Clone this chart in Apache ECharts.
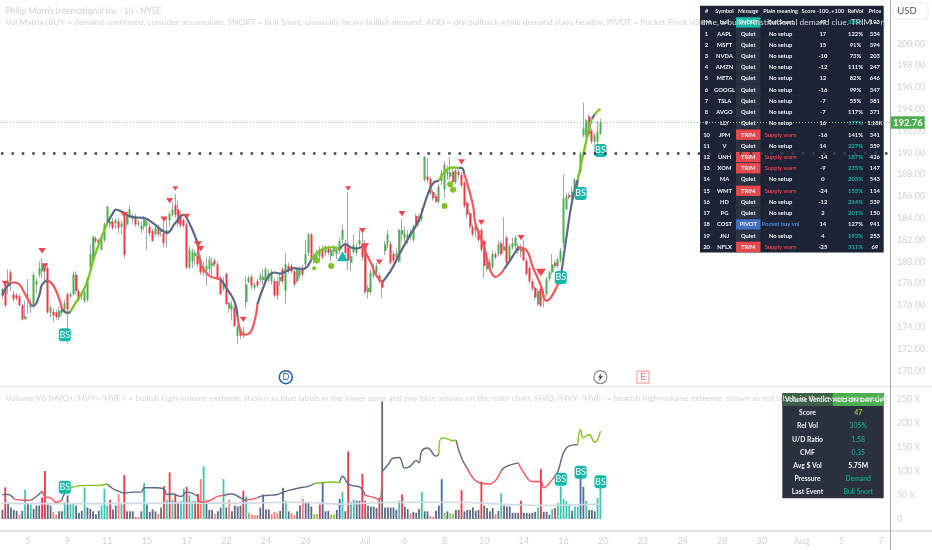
<!DOCTYPE html>
<html><head><meta charset="utf-8">
<style>html,body{margin:0;padding:0;background:#fff}#c{width:932px;height:550px}</style>
<script src="https://cdn.jsdelivr.net/npm/echarts@6/dist/echarts.min.js"></script>
</head><body><div id="c"></div>
<script>
const slotCount = 314;
const xTickIndex = [9,23,37,51,65,79,93,107,128,142,156,170,184,198,212,226,240,254,268,282,296,310];
const xTickLabels = ['5','9','11','15','17','22','24','26','Jul','6','8','10','14','16','20','22','24','28','30','Aug','5','7'];
const chartTitle = 'Philip Morris International Inc · 1h · NYSE';
const matrixLegend = 'Vol Matrix (BUY = demand confirmed, consider accumulate. SNORT = Bull Snort, unusually heavy bullish demand. ADD = dry pullback while demand stays healthy. PIVOT = Pocket Pivot Volume, a bullish institutional demand clue. TRIM = near';
const volumeLegend = 'Volume V6 (HVQ+/HVY+/HVE+ = bullish high-volume extreme, shown as blue labels in the lower pane and tiny blue arrows on the main chart. HVQ-/HVY-/HVE- = bearish high-volume extreme, shown as red labels in the lower pane and tiny red';
const lastPrice = 192.76;
const dottedLevel = 189.9;

// [open, close, low, high]
const candleRows = [
[176.9,177.5,176.6,177.6],[177.9,176.0,175.8,178.2],[177.9,178.2,177.0,179.3],[179.0,178.2,177.3,179.2],[177.0,176.6,176.3,177.3],
[176.9,176.6,176.4,177.1],[176.8,176.0,175.9,177.0],[176.0,174.7,174.6,176.1],[174.7,175.0,174.7,176.4],[176.7,177.0,175.2,178.4],
[175.8,176.1,175.3,176.7],[176.1,178.8,175.7,179.0],[177.9,178.2,177.0,178.5],[178.8,179.4,178.5,180.0],[179.1,179.75,178.5,180.3],
[179.75,179.1,178.2,179.8],[179.4,175.35,175.2,179.6],[175.3,175.8,174.9,176.0],[175.4,175.05,174.5,175.7],[175.35,174.9,174.7,175.6],
[174.9,175.5,174.6,175.9],[175.3,175.6,175.1,176.0],[175.6,176.2,175.3,176.5],[177.0,175.6,172.5,177.2],[176.8,177.0,176.6,177.2],
[177.0,178.8,176.9,179.1],[178.8,177.3,177.0,179.1],[177.3,176.5,176.3,177.5],[176.9,177.1,176.5,177.3],[176.4,177.2,176.2,177.5],
[176.5,178.5,176.3,178.6],[179.4,180.7,179.0,181.6],[180.2,182.3,180.0,182.3],[182.1,181.9,181.7,182.3],[182.0,181.7,181.5,182.1],
[181.1,182.3,181.0,182.4],[182.0,183.4,181.8,183.6],[183.7,185.06,183.4,185.1],[183.4,183.7,183.1,183.9],[183.7,183.1,182.9,184.0],
[183.5,183.8,183.0,184.0],[183.7,183.1,182.6,184.0],[183.2,183.5,182.5,183.8],[184.4,180.6,180.3,184.6],[183.4,184.2,183.1,184.5],
[184.2,184.8,184.0,185.1],[183.9,184.2,183.5,184.4],[184.1,183.4,183.2,184.4],[183.4,183.55,183.2,183.8],[183.0,183.3,182.6,183.7],
[183.2,184.0,182.9,184.2],[183.3,183.7,181.1,184.0],[183.2,182.6,182.3,183.5],[182.8,181.9,181.8,183.0],[182.5,183.1,182.3,183.3],
[183.1,182.5,182.3,183.4],[182.7,182.9,182.3,183.1],[182.6,181.7,181.3,183.8],[182.5,182.9,181.3,184.0],[183.8,184.4,183.2,184.6],
[184.3,184.8,184.1,185.5],[185.2,184.3,184.0,186.2],[184.8,183.5,183.2,185.6],[184.3,183.3,183.1,184.6],[183.8,183.3,183.1,184.0],
[183.4,179.45,179.3,183.6],[179.45,181.1,179.3,181.4],[180.0,180.9,179.4,181.2],[180.5,180.8,179.7,181.1],[180.5,179.75,179.5,181.0],
[180.2,179.0,178.8,180.6],[179.0,179.5,178.7,180.0],[179.2,179.6,177.8,180.4],[179.3,180.2,178.9,180.5],[179.6,179.9,178.7,180.4],
[180.1,179.75,179.5,180.3],[179.75,178.5,178.3,180.0],[178.5,177.0,176.9,178.7],[177.5,177.9,177.3,178.6],[178.9,176.1,176.0,179.0],
[175.7,176.2,175.3,176.3],[175.6,176.0,174.6,176.4],[175.8,174.1,174.0,176.0],[173.2,174.0,172.5,174.2],[173.8,173.2,172.9,174.0],
[173.3,173.6,173.0,174.0],[176.3,177.9,175.7,178.7],[178.1,178.5,178.0,178.7],[178.6,177.8,177.5,178.8],[177.6,177.9,177.4,178.1],
[178.2,177.8,177.6,178.4],[178.3,178.7,178.1,179.0],[178.3,178.6,177.9,179.3],[178.2,179.3,178.0,179.5],[178.4,178.9,178.1,179.3],
[178.2,179.0,177.9,179.3],[178.2,176.9,176.7,178.5],[178.2,176.9,176.5,178.6],[178.2,178.6,177.8,178.9],[179.3,178.2,178.0,179.5],
[177.3,179.75,176.1,180.8],[179.6,179.1,178.9,179.9],[179.6,179.1,178.9,179.8],[179.1,177.9,177.7,179.3],[178.2,179.3,178.0,179.5],
[178.7,179.2,178.4,179.6],[179.45,178.8,178.6,179.7],[179.75,180.7,179.4,182.0],[180.8,182.5,180.5,182.6],[182.5,180.2,180.0,182.6],
[180.1,180.5,179.8,180.8],[180.3,180.7,179.9,181.1],[180.5,181.1,180.1,181.4],[181.1,180.4,180.2,181.5],[180.8,181.2,180.5,181.5],
[181.2,180.8,180.6,181.4],[180.5,181.1,180.0,181.3],[180.9,181.2,180.5,181.5],[180.7,181.1,180.2,181.4],[181.0,181.9,180.7,182.2],
[182.0,182.9,181.7,183.4],[181.6,180.8,180.5,182.0],[181.3,180.1,179.2,186.4],[179.9,180.5,179.1,181.3],[180.9,181.5,180.7,182.5],
[180.8,181.3,180.5,181.7],[181.6,182.0,181.3,182.9],[181.6,180.4,180.1,182.9],[181.6,177.2,177.0,182.0],[177.2,177.6,176.6,177.9],
[177.2,179.0,177.0,179.3],[178.7,179.2,178.5,179.8],[179.0,179.6,178.7,179.9],[178.7,178.2,178.0,179.0],[178.1,177.6,176.7,178.3],
[180.97,181.6,180.6,181.9],[181.6,182.5,181.2,182.9],[181.6,179.9,179.7,181.9],[180.7,180.1,179.9,181.0],[180.4,180.8,179.9,181.2],
[180.0,182.9,179.9,183.0],[182.5,182.9,181.9,183.9],[182.1,182.6,181.8,183.2],[181.9,182.5,181.6,182.9],[182.3,182.7,182.0,183.0],
[182.0,183.2,181.8,183.4],[184.2,183.2,183.0,184.4],[183.6,184.0,183.3,184.3],[183.9,184.3,183.7,184.9],[187.5,189.6,187.3,189.7],
[187.8,187.5,187.2,189.5],[187.6,186.3,186.1,187.8],[186.4,185.8,185.6,186.6],[186.0,185.5,185.4,186.2],[185.5,186.9,185.3,187.1],
[187.4,188.1,187.0,188.4],[186.6,188.9,185.8,189.2],[188.0,188.3,187.5,188.8],[187.8,188.2,187.5,189.6],[188.25,187.3,187.0,188.6],
[187.3,188.4,187.1,188.6],[188.25,187.95,187.6,188.5],[187.95,187.0,186.8,188.2],[187.2,185.1,184.9,187.4],[185.4,184.3,184.0,185.6],
[184.45,183.2,183.0,184.6],[183.2,182.5,182.3,183.4],[182.9,183.3,182.2,183.7],[182.9,182.0,181.8,183.1],[182.9,181.1,180.9,183.1],
[181.9,179.6,178.5,182.1],[179.3,179.8,179.1,180.1],[179.9,179.5,179.3,180.3],[179.5,180.7,179.3,181.0],[180.7,180.4,180.2,180.9],
[180.7,181.6,180.5,181.9],[181.7,180.7,180.5,181.9],[181.0,181.4,181.0,184.1],[182.2,179.9,179.7,182.4],[180.2,181.4,180.0,181.6],
[181.3,181.7,181.1,182.2],[181.4,182.2,181.2,182.4],[181.4,181.0,180.7,181.7],[180.9,181.2,180.4,181.6],[181.2,180.1,180.0,182.0],
[180.1,178.85,178.7,180.3],[179.4,178.2,178.0,179.6],[178.2,177.5,177.3,178.4],[177.6,176.7,176.5,177.8],[176.1,177.3,175.9,177.5],
[177.5,175.95,175.8,177.7],[176.6,177.0,175.8,177.3],[177.0,178.4,176.8,178.6],[178.4,179.0,178.2,179.2],[179.0,179.75,178.8,180.7],
[179.9,179.6,179.4,180.1],[179.6,180.2,179.4,180.4],[180.1,181.0,179.9,181.3],[181.7,185.8,181.3,188.0],[184.8,186.0,184.7,186.3],
[186.1,185.9,185.7,186.3],[185.8,186.4,185.6,186.9],[186.4,187.5,186.2,187.7],[187.0,187.5,186.8,187.9],[188.25,189.9,188.1,190.1],
[191.6,192.2,191.4,194.6],[191.6,192.96,191.4,193.1],[193.3,191.7,191.5,193.5],[192.0,191.0,190.8,192.2],[191.0,191.6,190.7,191.8],
[191.0,191.9,190.8,192.9],[191.75,192.76,191.6,193.1]
];

// trend line pieces, [bar, price]
const trendGray = [
[[0,176.9],[1,177.5],[3,178.0]],
[[10,176.05],[11,175.95],[13,176.9],[14,177.9],[16,178.3]],
[[21,175.65],[23,175.3],[24,175.4]],
[[37,183.55],[39,184.45],[40,184.76],[42,184.6],[45,184.15],[47,184.06],[50,184.0],[53,183.55],[56,182.94],[58,182.64],[61,183.55],[64,184.3],[65,184.0],[67,182.94],[69,181.6]],
[[77,178.4],[79,177.6],[82,176.26],[83,174.9]],
[[90,176.1],[92,177.6],[94,178.7],[96,179.0],[98,178.9],[100,179.1],[103,179.4],[106,179.3],[109,180.2]],
[[119,181.1],[121,181.6],[123,181.3],[125,181.2],[127,181.4]],
[[134,178.1],[137,179.15],[140,180.66],[144,182.5],[147,183.85],[150,186.1],[152,187.2],[154,187.4]],
[[161,188.6],[162,188.6],[163,188.0]],
[[177,179.3],[179,180.06],[182,181.3]],
[[197,178.5],[199,182.2],[201,185.5],[203,187.5]],
[[208,193.1],[209,193.5]]
];
const trendGreen = [
[[24,175.4],[26,176.3],[28,177.1],[30,178.2],[32,180.05],[34,181.6],[37,183.55]],
[[109,180.2],[112,181.0],[115,181.3],[117,181.3],[119,181.1]],
[[154,187.4],[156,188.25],[159,188.65],[161,188.6]],
[[203,187.5],[205,189.9],[207,192.2],[208,193.1]],
[[209,193.5],[210,193.8],[211,194.0]]
];
const trendRed = [
[[3,178.0],[4,178.1],[6,177.9],[8,177.0],[10,176.05]],
[[16,178.3],[18,177.8],[20,176.6],[21,175.65]],
[[69,181.6],[70,179.75],[73,178.7],[75,178.5],[77,178.4]],
[[83,174.9],[85,173.3],[87,173.4],[89,174.6],[90,176.1]],
[[127,181.4],[130,179.9],[132,178.7],[134,178.1]],
[[163,188.0],[166,185.2],[167,183.4],[170,181.3],[172,179.3],[174,178.6],[177,179.3]],
[[182,181.3],[185,181.0],[187,179.6],[190,177.8],[192,176.4],[194,176.9],[197,178.5]]
];

// [bar, price, size]
const sellMarks = [[1,178.0,7],[14,181.0,7.5],[15,179.6,7],[43,184.3,7.5],[57,183.9,7],[59,185.6,7],[61,186.7,6],[65,184.15,7],[69,181.6,8],[70,181.2,7],[85,174.7,7],[122,186.7,6],[127,182.85,7],[128,181.4,8],[133,179.95,7],[141,184.4,7],[162,189.15,7],[169,183.6,7],[183,182.2,7],[190,179.0,10]];
const greenDots = [[110,179.4,5],[111,180.1,7],[116,179.6,7],[156,185.1,7],[158,187.1,7],[159,186.6,7]];
const tealUp = [[120,180.5]];
const bsMain = [[22,173.3],[197,178.55],[204,186.25],[211,190.2]];
const bsVolume = [[22,66000],[197,82700],[204,97300],[211,77700]];
const eventMarks = [[100,169.4,'D'],[211,169.4,''],[226,169.4,'E']];

// [volume in K, kind]
const volumeRows = [
[19,'g'],[66,'r'],[31,'g'],[24,'g'],[19,'g'],[17,'g'],[9,'l'],[17,'g'],[61,'t'],[33,'g'],[30,'t'],[21,'g'],[28,'g'],[28,'g'],[45,'r'],[100,'r'],[30,'g'],[28,'g'],[15,'l'],[9,'l'],
[16,'g'],[16,'g'],[35,'t'],[49,'g'],[33,'t'],[33,'t'],[28,'g'],[13,'g'],[17,'g'],[66,'t'],[24,'g'],[21,'g'],[16,'g'],[10,'g'],[17,'g'],[28,'t'],[63,'t'],[28,'t'],[40,'r'],[20,'g'],
[28,'g'],[52,'l'],[31,'t'],[92,'r'],[16,'g'],[16,'g'],[16,'g'],[5,'l'],[4,'l'],[16,'g'],[75,'t'],[30,'g'],[15,'g'],[20,'g'],[16,'g'],[10,'l'],[24,'g'],[68,'r'],[40,'t'],[97,'r'],
[40,'t'],[51,'r'],[35,'g'],[37,'t'],[63,'t'],[67,'r'],[49,'t'],[37,'t'],[37,'r'],[52,'r'],[83,'l'],[110,'t'],[37,'g'],[19,'g'],[19,'g'],[10,'l'],[16,'g'],[24,'g'],[83,'t'],[24,'g'],
[40,'l'],[16,'g'],[28,'g'],[26,'g'],[28,'g'],[59,'r'],[47,'t'],[13,'l'],[9,'l'],[8,'l'],[8,'l'],[24,'g'],[51,'g'],[20,'g'],[20,'g'],[10,'l'],[15,'l'],[13,'l'],[17,'g'],[65,'g'],
[38,'t'],[16,'g'],[12,'l'],[8,'l'],[16,'g'],[28,'g'],[42,'l'],[33,'g'],[33,'g'],[26,'g'],[10,'m'],[10,'m'],[30,'r'],[75,'b'],[16,'g'],[17,'g'],[9,'m'],[10,'m'],[19,'g'],[42,'b'],
[56,'t'],[16,'g'],[141,'r'],[35,'t'],[40,'t'],[38,'g'],[38,'g'],[94,'r'],[38,'r'],[28,'g'],[26,'g'],[26,'g'],[23,'g'],[44,'r'],[245,'g'],[24,'g'],[24,'g'],[24,'g'],[24,'g'],[19,'g'],
[38,'t'],[51,'r'],[26,'g'],[21,'g'],[12,'l'],[15,'g'],[13,'g'],[21,'g'],[56,'t'],[16,'g'],[16,'g'],[6,'l'],[5,'l'],[17,'g'],[28,'g'],[83,'b'],[13,'m'],[16,'g'],[12,'m'],[11,'m'],
[19,'g'],[19,'g'],[60,'r'],[16,'g'],[19,'g'],[19,'g'],[24,'g'],[17,'g'],[19,'g'],[78,'r'],[28,'g'],[23,'g'],[16,'g'],[23,'g'],[10,'l'],[17,'g'],[53,'t'],[28,'g'],[26,'g'],[26,'g'],
[13,'g'],[13,'g'],[13,'g'],[38,'r'],[13,'g'],[13,'g'],[12,'g'],[13,'g'],[15,'g'],[24,'t'],[104,'r'],[15,'g'],[15,'g'],[9,'g'],[21,'t'],[23,'r'],[33,'t'],[68,'t'],[42,'t'],[37,'t'],
[30,'t'],[17,'g'],[26,'t'],[26,'t'],[99,'b'],[67,'g'],[38,'t'],[19,'g'],[19,'g'],[16,'g'],[44,'t'],[65,'t']
];

// volume trend pieces, [bar, K]
const volTrendGray = [
[[0,51],[2,51],[4,42]],[[10,39],[12,47],[14,58]],[[21,39],[22,54],[24,65]],
[[37,73],[39,63],[41,58],[43,54],[46,56],[49,56],[50,65],[54,65],[57,63],[58,51],[60,52],[63,47],[65,56],[69,47]],
[[78,49],[81,52],[84,44],[86,39]],[[90,44],[91,47],[93,49],[97,51],[99,56],[102,61],[105,65],[108,68],[110,74]],
[[119,75],[120,89],[122,73],[124,69],[126,67],[128,49]],
[[134,99],[136,113],[138,127],[140,128],[142,106],[144,110],[146,122],[147,117],[148,142],[150,148],[153,131],[154,135]],
[[160,165],[162,127],[164,106]],[[176,101],[178,110],[182,117]],[[195,90],[196,99],[199,148],[203,155]]
];
const volTrendGreen = [
[[24,65],[29,70],[34,70],[37,73]],[[110,74],[113,76],[117,77],[119,75]],
[[154,135],[155,169],[157,167],[159,163],[160,165]],[[203,155],[204,186],[205,169],[207,176],[209,160],[210,165],[211,183]]
];
const volTrendRed = [
[[4,42],[7,39],[10,39]],[[14,58],[15,47],[17,44],[19,35],[21,39]],[[69,47],[70,35],[73,38],[76,47],[78,49]],[[86,39],[90,44]],
[[128,49],[131,45],[133,40],[134,99]],[[164,106],[168,76],[172,73],[176,101]],[[182,117],[184,96],[187,78],[190,78],[191,65],[194,82],[195,90]]
];
const volAverage = [[0,33],[11,32],[34,32],[58,33],[82,33],[105,35],[120,31],[132,34],[144,35],[156,35],[167,34],[179,30],[191,28],[203,30],[211,31]];

// table contents
const matrixHead = ['#','Symbol','Message','Plain meaning','Score -100..+100','RelVol','Price'];
const matrixRows = [
['PM','bull','SNORT','Bull Snort','47','305%','193'],
['1','AAPL','Quiet','No setup','17','122%','334'],['2','MSFT','Quiet','No setup','15','91%','394'],['3','NVDA','Quiet','No setup','-10','73%','203'],
['4','AMZN','Quiet','No setup','-12','111%','247'],['5','META','Quiet','No setup','12','82%','646'],['6','GOOGL','Quiet','No setup','-16','99%','347'],
['7','TSLA','Quiet','No setup','-7','55%','381'],['8','AVGO','Quiet','No setup','-7','117%','371'],['9','LLY','Quiet','No setup','16','177%','1.18K'],
['10','JPM','TRIM','Supply warn','-16','141%','341'],['11','V','Quiet','No setup','14','227%','359'],['12','UNH','TRIM','Supply warn','-14','187%','426'],
['13','XOM','TRIM','Supply warn','-9','235%','147'],['14','MA','Quiet','No setup','0','203%','543'],['15','WMT','TRIM','Supply warn','-24','153%','114'],
['16','HD','Quiet','No setup','-12','214%','339'],['17','PG','Quiet','No setup','2','201%','150'],['18','COST','PIVOT','Pocket buy vol','14','127%','941'],
['19','JNJ','Quiet','No setup','4','193%','253'],['20','NFLX','TRIM','Supply warn','-25','311%','69']
];
const verdictHead = ['Volume Verdict','ADD ON DRY-UP'];
const verdictRows = [['Score','47','#8bc34a'],['Rel Vol','305%','#14b8a6'],['U/D Ratio','1.58','#14b8a6'],['CMF','0.35','#14b8a6'],['Avg $ Vol','5.75M','#ffffff'],['Pressure','Demand','#14b8a6'],['Last Event','Bull Snort','#14b8a6']];

const FONT = 'Lato,"Noto Sans",sans-serif';
const PALE = '#d2d2d2';
const GRAY = '#5a6a85', LIME = '#7dc41f', RED = '#f5575c';
const VOL = {g:'#5d6a82', r:'#f23645', l:'#fb7f78', t:'#3cc6b2', m:'#8bc34a', b:'#3f6fb0'};

const cats = Array.from({length:slotCount},(_,i)=>String(i));
const tickMap = new Map(xTickIndex.map((v,k)=>[v,xTickLabels[k]]));

function pieces(groups,color,width,xi,yi,scale){
  return groups.map(g=>({type:'line',xAxisIndex:xi,yAxisIndex:yi,data:g.map(p=>[p[0],p[1]*scale]),smooth:0.45,symbol:'none',
    lineStyle:{color,width},z:4,silent:true}));
}

const series = [];
series.push({type:'candlestick',xAxisIndex:0,yAxisIndex:0,barWidth:1,data:candleRows,z:2,silent:true,
  itemStyle:{color:'#a3a6ad',color0:'#a3a6ad',borderColor:'#a3a6ad',borderColor0:'#a3a6ad',borderWidth:1},
  markLine:{silent:true,symbol:['none','none'],z:20,animation:false,data:[
    {yAxis:dottedLevel,lineStyle:{color:'#3d4152',type:[2.5,7.9],width:2.5},label:{show:false}},
    {yAxis:lastPrice,lineStyle:{color:'#8fd08f',type:[1,2],width:1},
     label:{show:true,position:'end',distance:0,formatter:lastPrice.toFixed(2),color:'#fff',fontFamily:FONT,fontWeight:'bold',fontSize:9.5,backgroundColor:'#4caf50',padding:[1.5,2,1,2]}}
  ]}});
series.push({type:'candlestick',xAxisIndex:0,yAxisIndex:0,barWidth:2.5,z:3,silent:true,
  data:candleRows.map(r=>[r[0],r[1],Math.min(r[0],r[1]),Math.max(r[0],r[1])]),
  itemStyle:{color:'#4caf50',color0:'#f23645',borderColor:'#4caf50',borderColor0:'#f23645',borderWidth:0}});
series.push(...pieces(trendGray,GRAY,2.2,0,0,1),...pieces(trendGreen,LIME,2.2,0,0,1),...pieces(trendRed,RED,2.2,0,0,1));
series.push({type:'scatter',xAxisIndex:0,yAxisIndex:0,z:5,silent:true,symbol:'triangle',symbolRotate:180,data:sellMarks,symbolSize:d=>[d[2],d[2]*0.75],itemStyle:{color:'#f0474f',opacity:1}});
series.push({type:'scatter',xAxisIndex:0,yAxisIndex:0,z:5,silent:true,symbol:'circle',data:greenDots,symbolSize:d=>d[2]-1,itemStyle:{color:LIME,opacity:1}});
series.push({type:'scatter',xAxisIndex:0,yAxisIndex:0,z:5,silent:true,symbol:'triangle',data:tealUp,symbolSize:[11,10],itemStyle:{color:'#14b8a6',opacity:1}});
const bsStyle = {type:'scatter',z:6,silent:true,symbol:'roundRect',symbolSize:[12,13],itemStyle:{color:'#14b8a6',opacity:1},
  label:{show:true,position:'inside',formatter:'BS',color:'#fff',fontFamily:FONT,fontSize:9}};
series.push({...bsStyle,xAxisIndex:0,yAxisIndex:0,data:bsMain});
const evColor = t=>t==='E'?'#f7a6a6':(t==='D'?'#1f5aa8':'#8a8690');
series.push({type:'scatter',xAxisIndex:0,yAxisIndex:0,z:6,silent:true,symbol:'circle',symbolSize:13,
  data:eventMarks.map(e=>({value:[e[0],e[1]],
    symbol:e[2]==='E'?'rect':'circle',symbolSize:e[2]==='E'?12:13,
    itemStyle:{color:'#fff',opacity:1,borderWidth:e[2]==='D'?1.5:1.2,borderColor:evColor(e[2])},
    label:{show:e[2]!=='',position:'inside',formatter:e[2],fontFamily:FONT,fontSize:9,color:e[2]==='E'?'#f26d6d':'#1f5aa8'}}))});
series.push({type:'scatter',xAxisIndex:0,yAxisIndex:0,z:7,silent:true,symbol:'path://M7 0 L1 7 L4.5 7 L3 13 L10 5 L6 5 Z',symbolSize:[5,8],
  data:eventMarks.filter(e=>e[2]==='').map(e=>[e[0],e[1]]),itemStyle:{color:'#4f4a58',opacity:1}});

series.push({type:'bar',xAxisIndex:1,yAxisIndex:1,barWidth:1.8,z:2,silent:true,
  data:volumeRows.map(r=>({value:r[0]*1000,itemStyle:{color:VOL[r[1]]}}))});
series.push({type:'line',xAxisIndex:1,yAxisIndex:1,smooth:0.4,symbol:'none',silent:true,z:3,lineStyle:{color:'#cfd8e3',width:1.6},data:volAverage.map(p=>[p[0],p[1]*1000])});
series.push(...pieces(volTrendGray,GRAY,1.4,1,1,1000),...pieces(volTrendGreen,LIME,1.4,1,1,1000),...pieces(volTrendRed,RED,1.4,1,1,1000));
series.push({...bsStyle,xAxisIndex:1,yAxisIndex:1,data:bsVolume});

const gfx = [];
const cell = (x,y,w,h,fill,z,op)=>gfx.push({type:'rect',silent:true,z,shape:{x,y,width:w,height:h},style:{fill,opacity:op==null?1:op}});
const txt = (x,y,text,fill,size,weight,z,style)=>gfx.push({type:'text',silent:true,z,x,y,style:{text,fill,font:`${style||''} ${weight} ${size}px ${FONT}`,align:'center',verticalAlign:'middle'}});

// matrix table
const colX = [700,713,736,760.5,800.7,845,866,883.7];
const rowH = 11.22, tTop = 5.7;
cell(700,tTop,183.7,rowH*22,'#131a2e',10,0.96);
matrixHead.forEach((t,c)=>txt((colX[c]+colX[c+1])/2,tTop+rowH/2,t,'#e8e8ee',5.6,'bold',11,c===2?'italic':''));
matrixRows.forEach((r,k)=>{
  const y = tTop+rowH*(k+1);
  gfx.push({type:'line',silent:true,z:10,shape:{x1:700,y1:y,x2:883.7,y2:y},style:{stroke:'#232b45',lineWidth:0.6}});
  const msgFill = {Quiet:'#2b3242',TRIM:'#e5484d',PIVOT:'#3f6fbf',SNORT:'#14b8a6'}[r[2]];
  cell(colX[2],y+0.3,colX[3]-colX[2],rowH-0.6,msgFill,10);
  const planFill = r[2]==='TRIM'?'#e0404c':(r[2]==='PIVOT'?'#4a90d9':'#f0f0f5');
  const rel = parseInt(r[5]);
  r.forEach((t,c)=>{
    let col='#f0f0f5';
    if(c===3) col=planFill;
    if(c===5 && rel>150) col='#14b8a6';
    txt((colX[c]+colX[c+1])/2,y+rowH/2,t,col,5.8,'bold',11);
  });
});

// verdict table
cell(782.3,393,101.4,105.3,'#242938',10,0.97);
cell(782.3,393,50.4,13,'#3c5f48',10);
cell(832.7,393,51,13,'#4caf50',10);
txt(807.5,399.5,verdictHead[0],'#e8f0e8',6.6,'bold',11);
txt(858.2,399.5,verdictHead[1],'#ffffff',6.4,'bold',11);
verdictRows.forEach((r,k)=>{
  const y=413+13.2*k;
  txt(807.5,y,r[0],'#eef0f4',6.8,'bold',11);
  txt(858.2,y,r[1],r[2],6.8,k===0||k===4?'bold':'normal',11);
});

// legends over everything
const leg = (x,y,t,w)=>gfx.push({type:'text',silent:true,z:30,x,y,style:{text:t,fill:PALE,font:`8.45px ${FONT}`,verticalAlign:'middle',width:w,overflow:'truncate',ellipsis:''}});
leg(5.5,22,matrixLegend,884);
leg(5.5,398,volumeLegend,884);

// pane rules and price-scale furniture
const rule=(x1,y1,x2,y2,stroke,lw)=>gfx.push({type:'line',silent:true,z:9,shape:{x1,y1,x2,y2},style:{stroke,lineWidth:lw}});
rule(0,386.5,932,386.5,'#e6e6e6',1.5);
rule(0,531,932,531,'#c4c4c4',1);
rule(890.5,0,890.5,550,'#a8a8a8',1);
gfx.push({type:'rect',silent:true,z:25,shape:{x:893,y:3,width:35,height:16,r:3},style:{fill:'#fff',stroke:'#ececec',lineWidth:1}});
gfx.push({type:'text',silent:true,z:26,x:907,y:11,style:{text:'USD',fill:'#555',font:`9.5px ${FONT}`,align:'center',verticalAlign:'middle'}});

const option = {
  animation:false, backgroundColor:'#fff',
  title:{text:chartTitle,left:5.5,top:6.5,z:30,textStyle:{color:PALE,fontFamily:FONT,fontSize:8.6,fontWeight:'normal'},padding:0},
  grid:[{left:1,width:889.9,top:-2.9,height:395.3,containLabel:false},{left:1,width:889.9,top:375,height:168,containLabel:false}],
  xAxis:[0,1].map(g=>({type:'category',gridIndex:g,data:cats,boundaryGap:true,axisLine:{show:false,onZero:false},axisTick:{show:false},splitLine:{show:false},
    axisLabel:g===0?{show:false}:{show:true,interval:i=>tickMap.has(i),formatter:(v,i)=>tickMap.get(i)||'',color:PALE,fontFamily:FONT,fontSize:9,margin:-6,hideOverlap:false}})),
  yAxis:[
    {type:'value',gridIndex:0,position:'right',min:168,max:204,interval:2,scale:true,axisLine:{show:false},axisTick:{show:false},splitLine:{show:false},
     axisLabel:{color:PALE,fontFamily:FONT,fontSize:9,margin:6,formatter:v=>(v>=170&&v<=200)?v.toFixed(2):''}},
    {type:'value',gridIndex:1,position:'right',min:-50000,max:300000,interval:50000,axisLine:{show:false},axisTick:{show:false},splitLine:{show:false},
     axisLabel:{color:PALE,fontFamily:FONT,fontSize:9,margin:6,formatter:v=>(v<0||v>250000)?'':(v===0?'0':(v/1000)+' K')}}
  ],
  series,
  graphic:{elements:gfx}
};
const chart = echarts.init(document.getElementById('c'),null,{renderer:'canvas',width:932,height:550});
chart.setOption(option);
</script></body></html>
